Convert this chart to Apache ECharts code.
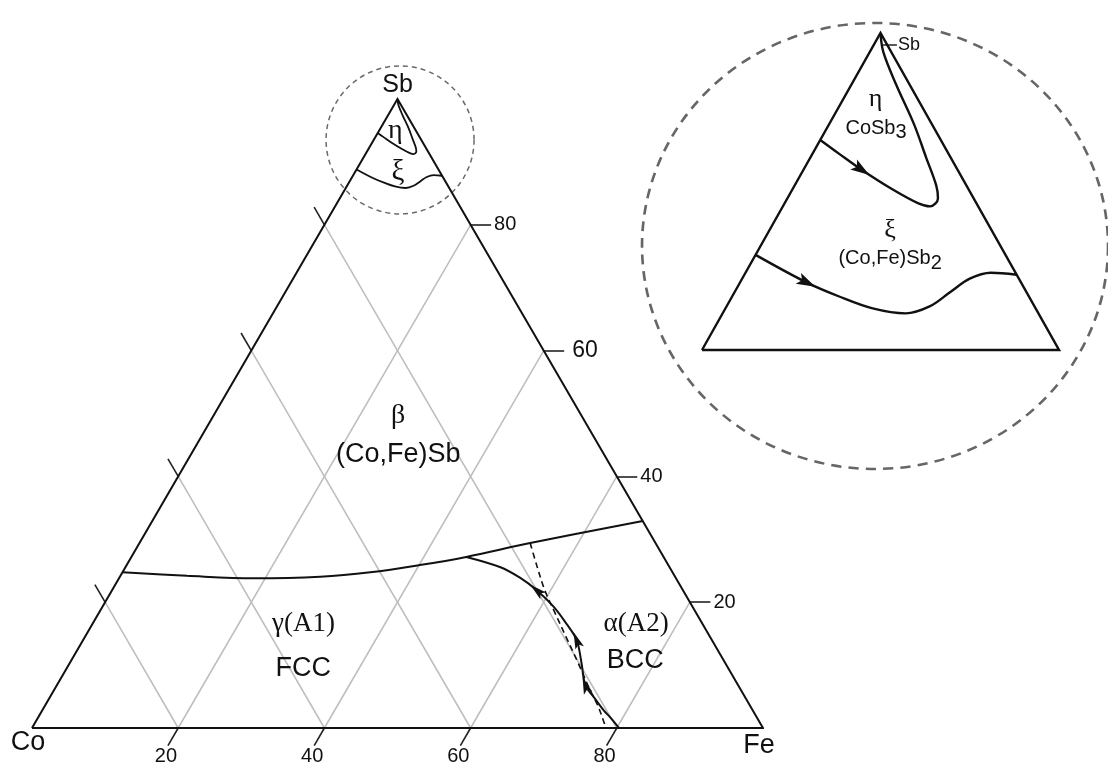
<!DOCTYPE html>
<html>
<head>
<meta charset="utf-8">
<script src="https://cdn.jsdelivr.net/npm/echarts@6/dist/echarts.min.js"></script>
<style>
  html, body { margin: 0; padding: 0; background: #fff; }
  #chart { width: 1108px; height: 765px; }
</style>
</head>
<body>
<div id="chart"></div>
<script>
// Co–Fe–Sb liquidus projection.
// Every composition is written as [Fe at.%, Sb at.%]; Co = 100 − Fe − Sb.

const gridValues = [20, 40, 60, 80];          // guide lines and tick marks
const bottomTickLabels = ['20', '40', '60', '80']; // Fe scale along Co–Fe edge
const rightTickLabels = ['20', '40', '60', '80'];  // Sb scale along Fe–Sb edge

// β / γ,α boundary running across the whole triangle
const betaBoundary = [
  [0, 24.75], [9.1, 24.2], [18.4, 23.8], [27.4, 24.05], [33.9, 24.75],
  [40.1, 25.9], [45.8, 27.2], [53.45, 29.4], [67.1, 32.9]
];
// γ / α monovariant line, ordered in the direction of falling temperature
const gammaAlphaLine = [
  [80.3, 0], [78.5, 1.5], [76.7, 2.9], [74.3, 5.0], [72.3, 6.8], [69.9, 10.5],
  [67.5, 14.0], [64.8, 16.6], [61.7, 19.3], [58.1, 21.9], [54.8, 23.9],
  [51.2, 25.6], [45.8, 27.2]
];
// metastable γ / α line (dashed)
const gammaAlphaDashed = [
  [53.45, 29.4], [56.2, 25.75], [59.2, 21.9], [62.4, 18.3], [65.8, 14.5],
  [69.4, 10.5], [73.0, 6.4], [75.5, 3.7], [77.0, 1.9], [78.5, 0]
];
// η (CoSb3) field boundary: from the Co–Sb edge, round the loop, up to pure Sb
const etaBoundary = [
  [0, 94.6], [1.2, 93.9], [2.6, 93.1], [4.5, 92.1], [6.0, 91.4], [6.6, 91.25],
  [6.75, 91.65], [6.35, 92.3], [5.2, 93.7], [3.8, 95.4], [2.0, 97.4],
  [0.6, 99.05], [0, 100]
];
// ξ ((Co,Fe)Sb2) / β boundary
const xiBoundary = [
  [0, 88.8], [3.0, 87.4], [4.8, 86.7], [6.6, 86.1], [8.2, 85.85], [9.1, 86.2],
  [9.65, 86.9], [10.2, 87.6], [11.0, 87.9], [12.2, 87.8]
];
// indices of the points that carry a direction arrow
const gammaAlphaArrowAt = [4, 6, 9];
const etaArrowAt = [2];
const xiArrowAt = [1];

// lowest Sb content shown in the enlarged corner
const cornerSbMin = 84;

const SANS = '"Liberation Sans", Arial, Helvetica, sans-serif';
const SERIF = '"Liberation Serif", "Times New Roman", "DejaVu Serif", serif';
const INK = '#111111';
const TICK = 2.8;                 // tick length in composition units
const ARROW = 'path://M0,0 L5,16 L0,12.5 L-5,16 Z';

// ternary -> cartesian (x = Fe + Sb/2, y = Sb), scaled by the axes
const xy = p => [p[0] + p[1] / 2, p[1]];

function curve(id, pts, g, width, type) {
  return {
    id, type: 'line', xAxisIndex: g, yAxisIndex: g,
    data: pts.map(xy), symbol: 'none', showSymbol: false,
    smooth: 0.35, clip: false, silent: true, z: 5,
    lineStyle: { color: INK, width, type: type || 'solid', opacity: 1 }
  };
}

function segs(id, list, g, color, width, z) {
  return {
    id, type: 'lines', coordinateSystem: 'cartesian2d', xAxisIndex: g, yAxisIndex: g,
    data: list.map(s => ({ coords: [xy(s[0]), xy(s[1])] })),
    lineStyle: { color, width, opacity: 1 }, silent: true, clip: false, z
  };
}

function texts(id, g, items) {
  return {
    id, type: 'scatter', xAxisIndex: g, yAxisIndex: g, symbolSize: 0.1, clip: false,
    silent: true, z: 10, itemStyle: { color: 'transparent', opacity: 1 },
    data: items.map(it => ({
      value: xy(it.at),
      label: Object.assign({ show: true, position: 'inside', color: INK, opacity: 1, formatter: it.text }, it.style)
    }))
  };
}

function arrows(id, g, pts, idx, size) {
  return {
    id, type: 'scatter', xAxisIndex: g, yAxisIndex: g, symbol: ARROW, symbolSize: size,
    clip: false, silent: true, z: 6, itemStyle: { color: INK, opacity: 1 },
    data: idx.map(i => ({ value: xy(pts[i]), symbolRotate: 0 }))
  };
}

// guide lines: constant Fe (base -> Fe–Sb edge) and constant Co (base -> Co–Sb edge)
const guideSegs = [];
gridValues.forEach(v => {
  guideSegs.push([[v, 0], [v, 100 - v]]);
  guideSegs.push([[v, 0], [0, v]]);
});
// tick marks outside the three edges
const tickSegs = [];
gridValues.forEach(v => {
  tickSegs.push([[v, 0], [v, -TICK]]);                 // Co–Fe edge
  tickSegs.push([[0, v], [-TICK, v + TICK]]);          // Co–Sb edge
  tickSegs.push([[100 - v, v], [100 - v + TICK, v]]);  // Fe–Sb edge
});

const sansLbl = (size, extra) => Object.assign({ fontFamily: SANS, fontSize: size }, extra || {});
const serifLbl = (size, extra) => Object.assign({ fontFamily: SERIF, fontSize: size }, extra || {});
const subRich = {
  a: { fontFamily: SANS, fontSize: 20, color: INK },
  s: { fontFamily: SANS, fontSize: 20, color: INK, padding: [9, 0, 0, 0] }
};

const mainTexts = [
  { at: [0, 0], text: 'Co', style: sansLbl(27, { offset: [-4, 15] }) },
  { at: [100, 0], text: 'Fe', style: sansLbl(27, { offset: [-4, 18] }) },
  { at: [0, 100], text: 'Sb', style: sansLbl(25, { offset: [0, -14] }) },
  { at: [25.3, 49.6], text: 'β', style: serifLbl(28) },
  { at: [28.4, 43.4], text: '(Co,Fe)Sb', style: sansLbl(27) },
  { at: [28.9, 16.5], text: 'γ(A1)', style: serifLbl(27) },
  { at: [32.4, 9.4], text: 'FCC', style: sansLbl(27) },
  { at: [74.4, 16.5], text: 'α(A2)', style: serifLbl(27) },
  { at: [77.2, 10.65], text: 'BCC', style: sansLbl(27) },
  { at: [2.2, 95.0], text: 'η', style: serifLbl(28) },
  { at: [5.9, 88.3], text: 'ξ', style: serifLbl(29) }
];
gridValues.forEach((v, i) => {
  mainTexts.push({ at: [v, -TICK], text: bottomTickLabels[i],
    style: sansLbl(20, { offset: [-2, 11] }) });
  mainTexts.push({ at: [100 - v + TICK, v], text: rightTickLabels[i],
    style: sansLbl(v === 60 ? 23 : 20, { position: 'right', distance: v === 60 ? 8 : 3 }) });
});

const cornerTexts = [
  { at: [1.45, 96.65], text: 'η', style: serifLbl(26) },
  { at: [2.2, 95.2], text: '{a|CoSb}{s|3}', style: { rich: subRich } },
  { at: [5.4, 90.06], text: 'ξ', style: serifLbl(26) },
  { at: [6.13, 88.6], text: '{a|(Co,Fe)Sb}{s|2}', style: { rich: subRich } },
  { at: [1.04, 99.39], text: 'Sb', style: sansLbl(18, { position: 'right', distance: 1 }) }
];

const option = {
  animation: false,
  backgroundColor: '#ffffff',
  grid: [
    { left: 32, top: 99, width: 731, height: 629 },
    { left: 702, top: 33, width: 357, height: 317 }
  ],
  xAxis: [
    { gridIndex: 0, type: 'value', min: 0, max: 100, show: false },
    { gridIndex: 1, type: 'value', min: 50 - (100 - cornerSbMin) / 2, max: 50 + (100 - cornerSbMin) / 2, show: false }
  ],
  yAxis: [
    { gridIndex: 0, type: 'value', min: 0, max: 100, show: false },
    { gridIndex: 1, type: 'value', min: cornerSbMin, max: 100, show: false }
  ],
  series: [
    segs('guides', guideSegs, 0, '#bdbdbd', 1.5, 1),
    {
      id: 'zoomRing', type: 'scatter', xAxisIndex: 0, yAxisIndex: 0, symbol: 'circle',
      symbolSize: 148, clip: false, silent: true, z: 2, data: [xy([3.6, 93.5])],
      itemStyle: { color: 'transparent', opacity: 1, borderColor: '#6a6a6a', borderWidth: 1.5, borderType: [5, 4] }
    },
    {
      id: 'cornerRing', type: 'scatter', xAxisIndex: 1, yAxisIndex: 1, symbol: 'circle',
      symbolSize: [466, 446], clip: false, silent: true, z: 2, data: [xy([5.13, 89.25])],
      itemStyle: { color: 'transparent', opacity: 1, borderColor: '#666666', borderWidth: 2.6, borderType: [10, 7] }
    },
    {
      id: 'edges', type: 'line', xAxisIndex: 0, yAxisIndex: 0, symbol: 'none', clip: false, silent: true, z: 4,
      data: [[0, 0], [100, 0], [0, 100], [0, 0]].map(xy),
      lineStyle: { color: '#111', width: 2, join: 'miter' }
    },
    segs('ticks', tickSegs, 0, '#222', 1.6, 4),
    curve('beta', betaBoundary, 0, 2),
    curve('gammaAlpha', gammaAlphaLine, 0, 2),
    curve('gammaAlphaDashed', gammaAlphaDashed, 0, 1.6, [6, 4]),
    curve('eta', etaBoundary, 0, 1.8),
    curve('xi', xiBoundary, 0, 1.8),
    arrows('gammaAlphaArrows', 0, gammaAlphaLine, gammaAlphaArrowAt, [9, 17]),
    texts('mainTexts', 0, mainTexts),

    {
      id: 'cornerEdges', type: 'line', xAxisIndex: 1, yAxisIndex: 1, symbol: 'none', clip: false, silent: true, z: 4,
      data: [[0, cornerSbMin], [100 - cornerSbMin, cornerSbMin], [0, 100], [0, cornerSbMin]].map(xy),
      lineStyle: { color: '#111', width: 2.4, join: 'miter' }
    },
    curve('etaCorner', etaBoundary, 1, 2.4),
    curve('xiCorner', xiBoundary, 1, 2.4),
    segs('sbPointer', [[[0.41, 99.39], [1.04, 99.39]]], 1, '#222', 1.5, 4),
    arrows('etaArrows', 1, etaBoundary, etaArrowAt, [12, 19]),
    arrows('xiArrows', 1, xiBoundary, xiArrowAt, [12, 19]),
    texts('cornerTexts', 1, cornerTexts)
  ]
};

const chart = echarts.init(document.getElementById('chart'), null, { renderer: 'canvas' });
chart.setOption(option);

// orient every arrow along its curve, measured in screen space
function heading(g, pts, i) {
  const a = chart.convertToPixel({ gridIndex: g }, xy(pts[Math.max(i - 1, 0)]));
  const b = chart.convertToPixel({ gridIndex: g }, xy(pts[Math.min(i + 1, pts.length - 1)]));
  return Math.atan2(-(b[1] - a[1]), b[0] - a[0]) * 180 / Math.PI - 90;
}
const orient = (g, pts, idx) => idx.map(i => ({ value: xy(pts[i]), symbolRotate: heading(g, pts, i) }));
chart.setOption({
  series: [
    { id: 'gammaAlphaArrows', data: orient(0, gammaAlphaLine, gammaAlphaArrowAt) },
    { id: 'etaArrows', data: orient(1, etaBoundary, etaArrowAt) },
    { id: 'xiArrows', data: orient(1, xiBoundary, xiArrowAt) }
  ]
});
</script>
</body>
</html>
